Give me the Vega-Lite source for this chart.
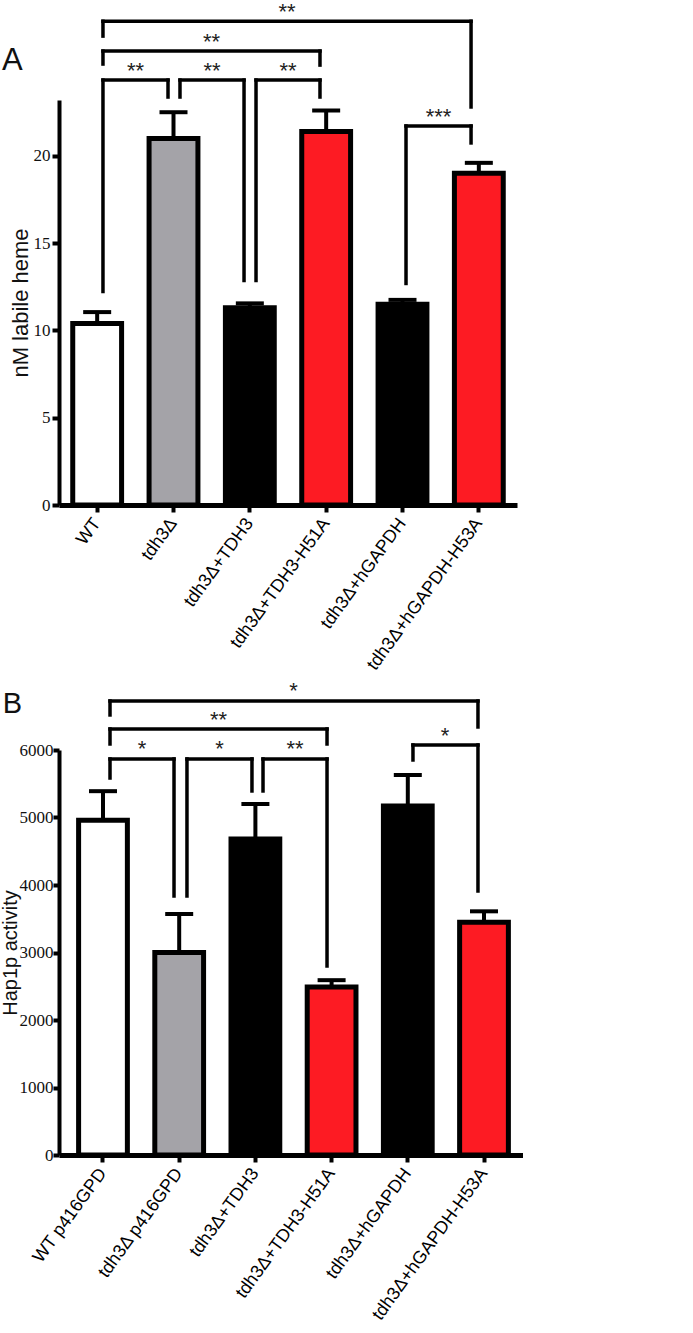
{
  "$schema": "https://vega.github.io/schema/vega-lite/v6.json",
  "background": "white",
  "padding": {"top": 0, "left": 0, "right": 0, "bottom": 0},
  "spacing": 6,
  "config": {
    "view": {"stroke": null},
    "axis": {"grid": false, "domainColor": "black", "tickColor": "black", "labelColor": "#111", "titleColor": "#111"},
    "text": {"font": "Liberation Sans"}
  },
  "datasets": {
    "heme": [
      {"strain": "WT", "kind": "wild type", "mean": 10.4, "upper": 11.05},
      {"strain": "tdh3Δ", "kind": "deletion", "mean": 21.0, "upper": 22.5},
      {"strain": "tdh3Δ+TDH3", "kind": "rescue", "mean": 11.3, "upper": 11.55},
      {"strain": "tdh3Δ+TDH3-H51A", "kind": "His mutant", "mean": 21.4, "upper": 22.6},
      {"strain": "tdh3Δ+hGAPDH", "kind": "rescue", "mean": 11.5, "upper": 11.75},
      {"strain": "tdh3Δ+hGAPDH-H53A", "kind": "His mutant", "mean": 19.0, "upper": 19.6}
    ],
    "hap1": [
      {"strain": "WT p416GPD", "kind": "wild type", "mean": 4960, "upper": 5390},
      {"strain": "tdh3Δ p416GPD", "kind": "deletion", "mean": 3000, "upper": 3570},
      {"strain": "tdh3Δ+TDH3", "kind": "rescue", "mean": 4680, "upper": 5200},
      {"strain": "tdh3Δ+TDH3-H51A", "kind": "His mutant", "mean": 2490, "upper": 2590},
      {"strain": "tdh3Δ+hGAPDH", "kind": "rescue", "mean": 5170, "upper": 5630},
      {"strain": "tdh3Δ+hGAPDH-H53A", "kind": "His mutant", "mean": 3450, "upper": 3610}
    ],
    "sigA": [
      {"x1": 0.576, "x2": 5.398, "ytop": 27.71, "yleft": 26.86, "yright": 22.8, "xt": 2.987, "label": "**"},
      {"x1": 0.576, "x2": 3.419, "ytop": 26.0, "yleft": 25.26, "yright": 25.2, "xt": 1.998, "label": "**"},
      {"x1": 0.576, "x2": 1.428, "ytop": 24.34, "yleft": 12.23, "yright": 23.37, "xt": 1.002, "label": "**"},
      {"x1": 1.585, "x2": 2.424, "ytop": 24.34, "yleft": 23.37, "yright": 12.86, "xt": 2.005, "label": "**"},
      {"x1": 2.581, "x2": 3.419, "ytop": 24.34, "yleft": 12.86, "yright": 23.37, "xt": 3.0, "label": "**"},
      {"x1": 4.546, "x2": 5.398, "ytop": 21.71, "yleft": 12.69, "yright": 20.74, "xt": 4.972, "label": "***"}
    ],
    "sigB": [
      {"x1": 0.592, "x2": 5.421, "ytop": 6726, "yleft": 6519, "yright": 6341, "xt": 3.0, "label": "*"},
      {"x1": 0.592, "x2": 3.44, "ytop": 6311, "yleft": 6089, "yright": 6089, "xt": 2.016, "label": "**"},
      {"x1": 0.592, "x2": 1.432, "ytop": 5867, "yleft": 5585, "yright": 3837, "xt": 1.012, "label": "*"},
      {"x1": 1.602, "x2": 2.455, "ytop": 5867, "yleft": 3837, "yright": 5393, "xt": 2.03, "label": "*"},
      {"x1": 2.6, "x2": 3.44, "ytop": 5867, "yleft": 5393, "yright": 2800, "xt": 3.02, "label": "**"},
      {"x1": 4.568, "x2": 5.421, "ytop": 6074, "yleft": 5852, "yright": 3911, "xt": 4.99, "label": "*"}
    ],
    "panelA": [{"panel": "A", "px": -0.61, "py": 25.43}],
    "panelB": [{"panel": "B", "px": -0.69, "py": 6681}]
  },
  "vconcat": [
    {
      "width": 458,
      "height": 405,
      "resolve": {"scale": {"x": "independent"}},
      "layer": [
        {
          "data": {"name": "heme"},
          "encoding": {
            "x": {"field": "strain", "type": "nominal", "sort": null,
              "scale": {"paddingInner": 0.36, "paddingOuter": 0.18},
              "axis": {"title": null, "labelAngle": -54, "labelAlign": "right", "labelBaseline": "middle", "labelFont": "Liberation Sans", "labelFontSize": 18, "labelLimit": 400, "labelPadding": 8, "domainWidth": 5, "tickWidth": 4, "tickSize": 7, "labelColor": "black"}}
          },
          "layer": [
            {
              "mark": {"type": "bar", "stroke": "black", "strokeWidth": 5},
              "encoding": {
                "y": {"field": "mean", "type": "quantitative",
                  "scale": {"domain": [0, 23.2], "nice": false},
                  "axis": {"title": "nM labile heme", "values": [0, 5, 10, 15, 20], "titleFont": "Liberation Sans", "titleFontSize": 22, "titleFontWeight": "normal", "titleX": -32, "titleBaseline": "alphabetic", "labelFont": "Liberation Sans Narrow", "labelFontSize": 17, "labelPadding": 2, "domainWidth": 4, "tickWidth": 4, "tickSize": 7}},
                "fill": {"field": "kind", "type": "nominal", "legend": null,
                  "scale": {"domain": ["wild type", "deletion", "rescue", "His mutant"], "range": ["#ffffff", "#a4a3a8", "#000000", "#fd1b23"]}}
              }
            },
            {
              "mark": {"type": "rule", "strokeWidth": 4, "color": "black"},
              "encoding": {
                "y": {"field": "mean", "type": "quantitative"},
                "y2": {"field": "upper"}
              }
            },
            {
              "mark": {"type": "tick", "size": 28, "thickness": 4, "color": "black", "opacity": 1},
              "encoding": {
                "y": {"field": "upper", "type": "quantitative"}
              }
            }
          ]
        },
        {
          "data": {"name": "sigA"},
          "layer": [
            {
              "mark": {"type": "rule", "strokeWidth": 3.5, "color": "black", "strokeCap": "square"},
              "encoding": {
                "x": {"field": "x1", "type": "quantitative", "scale": {"domain": [0, 6], "nice": false, "zero": false}, "axis": null},
                "x2": {"field": "x2"},
                "y": {"field": "ytop", "type": "quantitative"}
              }
            },
            {
              "mark": {"type": "rule", "strokeWidth": 3.5, "color": "black", "strokeCap": "square"},
              "encoding": {
                "x": {"field": "x1", "type": "quantitative", "axis": null},
                "y": {"field": "yleft", "type": "quantitative"},
                "y2": {"field": "ytop"}
              }
            },
            {
              "mark": {"type": "rule", "strokeWidth": 3.5, "color": "black", "strokeCap": "square"},
              "encoding": {
                "x": {"field": "x2", "type": "quantitative", "axis": null},
                "y": {"field": "yright", "type": "quantitative"},
                "y2": {"field": "ytop"}
              }
            },
            {
              "mark": {"type": "text", "fontSize": 22, "baseline": "alphabetic", "dy": -2.5, "color": "#222"},
              "encoding": {
                "x": {"field": "xt", "type": "quantitative", "axis": null},
                "y": {"field": "ytop", "type": "quantitative"},
                "text": {"field": "label"}
              }
            },
            {
              "data": {"name": "panelA"},
              "mark": {"type": "text", "fontSize": 31, "baseline": "middle", "align": "center", "color": "#111"},
              "encoding": {
                "x": {"field": "px", "type": "quantitative", "axis": null},
                "y": {"field": "py", "type": "quantitative"},
                "text": {"field": "panel"}
              }
            }
          ]
        }
      ]
    },
    {
      "width": 464,
      "height": 405,
      "resolve": {"scale": {"x": "independent"}},
      "layer": [
        {
          "data": {"name": "hap1"},
          "encoding": {
            "x": {"field": "strain", "type": "nominal", "sort": null,
              "scale": {"paddingInner": 0.36, "paddingOuter": 0.2245, "align": 0.573},
              "axis": {"title": null, "labelAngle": -54, "labelAlign": "right", "labelBaseline": "middle", "labelFont": "Liberation Sans", "labelFontSize": 18, "labelLimit": 400, "labelPadding": 8, "domainWidth": 5, "tickWidth": 4, "tickSize": 7, "labelColor": "black"}}
          },
          "layer": [
            {
              "mark": {"type": "bar", "stroke": "black", "strokeWidth": 5},
              "encoding": {
                "y": {"field": "mean", "type": "quantitative",
                  "scale": {"domain": [0, 6000], "nice": false},
                  "axis": {"title": "Hap1p activity", "format": "d", "values": [0, 1000, 2000, 3000, 4000, 5000, 6000], "titleFont": "Liberation Sans", "titleFontSize": 20, "titleFontWeight": "normal", "titleX": -43, "titleBaseline": "alphabetic", "labelFont": "Liberation Sans Narrow", "labelFontSize": 17, "labelPadding": 0, "domainWidth": 4, "tickWidth": 4, "tickSize": 6}},
                "fill": {"field": "kind", "type": "nominal", "legend": null,
                  "scale": {"domain": ["wild type", "deletion", "rescue", "His mutant"], "range": ["#ffffff", "#a4a3a8", "#000000", "#fd1b23"]}}
              }
            },
            {
              "mark": {"type": "rule", "strokeWidth": 4, "color": "black"},
              "encoding": {
                "y": {"field": "mean", "type": "quantitative"},
                "y2": {"field": "upper"}
              }
            },
            {
              "mark": {"type": "tick", "size": 28, "thickness": 4, "color": "black", "opacity": 1},
              "encoding": {
                "y": {"field": "upper", "type": "quantitative"}
              }
            }
          ]
        },
        {
          "data": {"name": "sigB"},
          "layer": [
            {
              "mark": {"type": "rule", "strokeWidth": 3.5, "color": "black", "strokeCap": "square"},
              "encoding": {
                "x": {"field": "x1", "type": "quantitative", "scale": {"domain": [-0.0774, 6.012], "nice": false, "zero": false}, "axis": null},
                "x2": {"field": "x2"},
                "y": {"field": "ytop", "type": "quantitative"}
              }
            },
            {
              "mark": {"type": "rule", "strokeWidth": 3.5, "color": "black", "strokeCap": "square"},
              "encoding": {
                "x": {"field": "x1", "type": "quantitative", "axis": null},
                "y": {"field": "yleft", "type": "quantitative"},
                "y2": {"field": "ytop"}
              }
            },
            {
              "mark": {"type": "rule", "strokeWidth": 3.5, "color": "black", "strokeCap": "square"},
              "encoding": {
                "x": {"field": "x2", "type": "quantitative", "axis": null},
                "y": {"field": "yright", "type": "quantitative"},
                "y2": {"field": "ytop"}
              }
            },
            {
              "mark": {"type": "text", "fontSize": 22, "baseline": "alphabetic", "dy": -2.5, "color": "#222"},
              "encoding": {
                "x": {"field": "xt", "type": "quantitative", "axis": null},
                "y": {"field": "ytop", "type": "quantitative"},
                "text": {"field": "label"}
              }
            },
            {
              "data": {"name": "panelB"},
              "mark": {"type": "text", "fontSize": 29, "baseline": "middle", "align": "center", "color": "#111"},
              "encoding": {
                "x": {"field": "px", "type": "quantitative", "axis": null},
                "y": {"field": "py", "type": "quantitative"},
                "text": {"field": "panel"}
              }
            }
          ]
        }
      ]
    }
  ]
}
